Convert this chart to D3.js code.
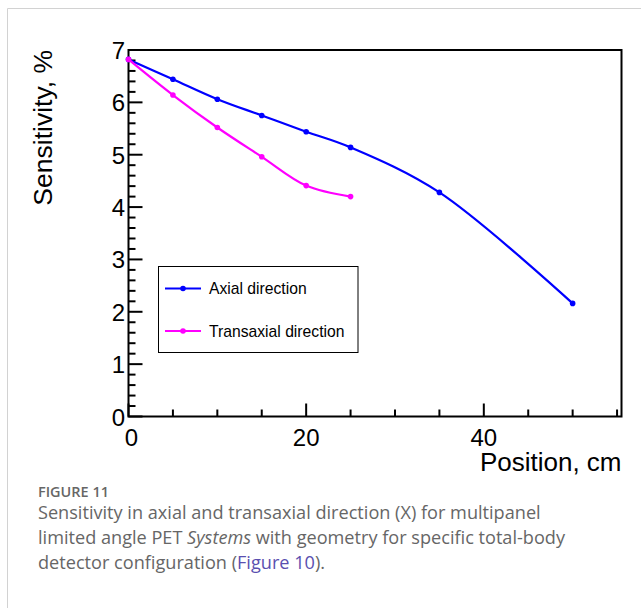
<!DOCTYPE html>
<html>
<head>
<meta charset="utf-8">
<script src="https://cdn.jsdelivr.net/npm/d3@7"></script>
<style>
  body { margin: 0; background: #fff; }
  svg { display: block; }
</style>
</head>
<body>
<svg id="chart" width="641" height="608"></svg>
<script>
// data
var positions = [0, 5, 10, 15, 20, 25, 35, 50];
var axialValues = [6.82, 6.44, 6.06, 5.75, 5.44, 5.14, 4.28, 2.16];
var transPositions = [0, 5, 10, 15, 20, 25];
var transValues = [6.82, 6.14, 5.52, 4.96, 4.41, 4.20];
var seriesNames = ['Axial direction', 'Transaxial direction'];
var seriesColors = ['#0000ff', '#ff00ff'];
var xTickLabels = [0, 20, 40];
var yTickLabels = [0, 1, 2, 3, 4, 5, 6, 7];

var frame = {left: 128.5, right: 621.5, top: 50, bottom: 416.5};

var svg = d3.select('#chart');

// page border (light grey)
svg.append('path')
    .attr('d', 'M7.5,608 V8.5 H641')
    .attr('fill', 'none')
    .attr('stroke', '#d2d2d2')
    .attr('stroke-width', 1);

// scales
var xScale = d3.scaleLinear()
    .domain([0, 55.5])
    .range([frame.left, frame.right]);

var yScale = d3.scaleLinear()
    .domain([0, 7])
    .range([frame.bottom, frame.top]);

var plot = svg.append('g');

// frame
plot.append('rect')
    .attr('x', frame.left)
    .attr('y', frame.top)
    .attr('width', frame.right - frame.left)
    .attr('height', frame.bottom - frame.top)
    .attr('fill', 'none')
    .attr('stroke', '#000')
    .attr('stroke-width', 2);

// ticks drawn inward like ROOT
var xMinor = d3.range(0, 55.01, 5);
plot.selectAll('.xtick')
    .data(xMinor)
  .enter().append('line')
    .attr('x1', function(d) { return xScale(d); })
    .attr('x2', function(d) { return xScale(d); })
    .attr('y1', frame.bottom)
    .attr('y2', function(d) { return frame.bottom - (d % 20 === 0 ? 13 : 7); })
    .attr('stroke', '#000')
    .attr('stroke-width', 2);

var yMinor = d3.range(0, 35).map(function(i) { return i * 0.2; });
plot.selectAll('.ytick')
    .data(yMinor)
  .enter().append('line')
    .attr('x1', frame.left)
    .attr('x2', function(d, i) { return frame.left + (i % 5 === 0 ? 14 : 7); })
    .attr('y1', function(d) { return yScale(d); })
    .attr('y2', function(d) { return yScale(d); })
    .attr('stroke', '#000')
    .attr('stroke-width', 2);

// tick labels
var labelFont = 'Liberation Sans, Arial, Helvetica, sans-serif';
plot.selectAll('.xlab')
    .data(xTickLabels)
  .enter().append('text')
    .attr('x', function(d) { return xScale(d) + (d === 0 ? 3 : 0); })
    .attr('y', 446)
    .attr('text-anchor', 'middle')
    .attr('font-family', labelFont)
    .attr('font-size', 24)
    .text(function(d) { return d; });

plot.selectAll('.ylab')
    .data(yTickLabels)
  .enter().append('text')
    .attr('x', 125)
    .attr('y', function(d) { return yScale(d) + 9; })
    .attr('text-anchor', 'end')
    .attr('font-family', labelFont)
    .attr('font-size', 24)
    .text(function(d) { return d; });

// axis titles
svg.append('text')
    .attr('x', frame.right)
    .attr('y', 471)
    .attr('text-anchor', 'end')
    .attr('font-family', labelFont)
    .attr('font-size', 26)
    .text('Position, cm');

svg.append('text')
    .attr('transform', 'translate(52,' + frame.top + ') rotate(-90)')
    .attr('text-anchor', 'end')
    .attr('font-family', labelFont)
    .attr('font-size', 26.5)
    .text('Sensitivity, %');

// curves
var line = d3.line()
    .x(function(d) { return xScale(d[0]); })
    .y(function(d) { return yScale(d[1]); })
    .curve(d3.curveCatmullRom.alpha(0.5));

var series = [
    d3.zip(positions, axialValues),
    d3.zip(transPositions, transValues)
];

series.forEach(function(pts, i) {
    plot.append('path')
        .datum(pts)
        .attr('d', line)
        .attr('fill', 'none')
        .attr('stroke', seriesColors[i])
        .attr('stroke-width', 2.2);
    plot.selectAll('.pt' + i)
        .data(pts)
      .enter().append('circle')
        .attr('cx', function(d) { return xScale(d[0]); })
        .attr('cy', function(d) { return yScale(d[1]); })
        .attr('r', 2.8)
        .attr('fill', seriesColors[i]);
});

// legend
var legend = svg.append('g');
legend.append('rect')
    .attr('x', 158.5)
    .attr('y', 266.5)
    .attr('width', 199.5)
    .attr('height', 86)
    .attr('fill', '#fff')
    .attr('stroke', '#000')
    .attr('stroke-width', 1);

var legendRows = [288.5, 331];
seriesNames.forEach(function(name, i) {
    var yy = legendRows[i];
    legend.append('line')
        .attr('x1', 165).attr('x2', 201)
        .attr('y1', yy).attr('y2', yy)
        .attr('stroke', seriesColors[i])
        .attr('stroke-width', 2.2);
    legend.append('circle')
        .attr('cx', 183).attr('cy', yy).attr('r', 2.8)
        .attr('fill', seriesColors[i]);
    legend.append('text')
        .attr('x', 209)
        .attr('y', yy + 5.5)
        .attr('font-family', labelFont)
        .attr('font-size', 15.7)
        .text(name);
});

// caption
var capFont = '"Open Sans", Lato, sans-serif';
var cap = svg.append('g').attr('font-family', capFont).attr('fill', '#666');
var fig = cap.append('text')
    .attr('x', 38).attr('y', 497)
    .attr('font-size', 13)
    .attr('font-weight', 600)
    .text('FIGURE 11');
// fit the label to its width in the figure
fig.attr('font-size', 13 * 71 / fig.node().getComputedTextLength());

var l1 = cap.append('text')
    .attr('x', 38).attr('y', 519)
    .attr('font-size', 17)
    .text('Sensitivity in axial and transaxial direction (X) for multipanel');
var capSize = 17 * 503 / l1.node().getComputedTextLength();
l1.attr('font-size', capSize);

var l2 = cap.append('text')
    .attr('x', 38).attr('y', 544)
    .attr('font-size', capSize);
l2.append('tspan').text('limited angle PET ');
l2.append('tspan').attr('font-style', 'italic').text('Systems');
l2.append('tspan').text(' with geometry for specific total-body');

var l3 = cap.append('text')
    .attr('x', 38).attr('y', 569)
    .attr('font-size', capSize);
l3.append('tspan').text('detector configuration (');
l3.append('tspan').attr('fill', '#5a4fb0').text('Figure 10');
l3.append('tspan').text(').');
</script>
</body>
</html>
